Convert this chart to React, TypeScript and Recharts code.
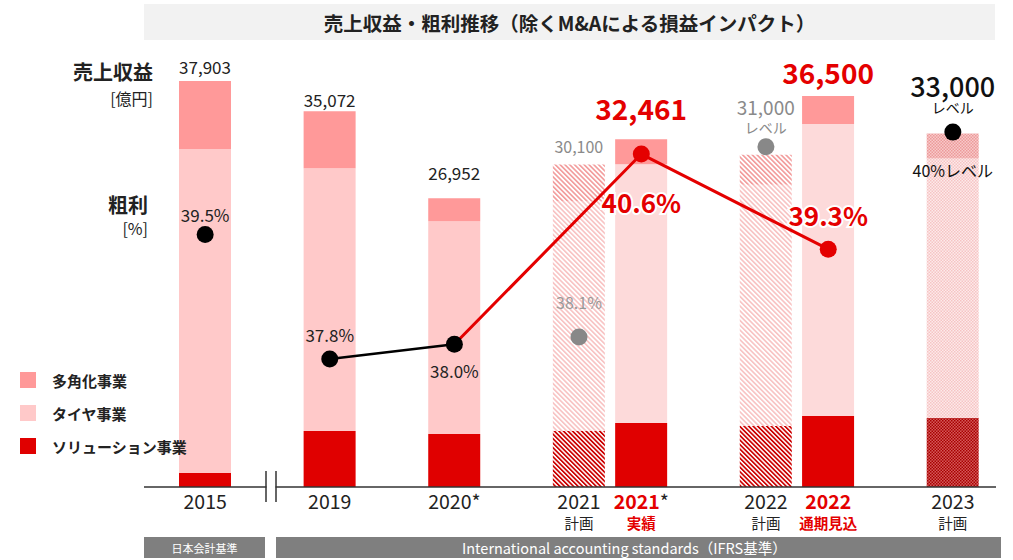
import React from "react";
import { ComposedChart, Bar, Line, XAxis, YAxis, Cell, LabelList } from "recharts";

const CATEGORIES = ["2015", "2019", "2020*", "2021", "2021*", "2022", "2022", "2023"];
const SUB_LABELS = ["", "", "", "計画", "実績", "計画", "通期見込", "計画"];
// slot of each category on a 13-slot grid (gaps are empty slots)
const SLOTS = [0, 2, 4, 6, 7, 9, 10, 12];
const SLOT_COUNT = 13;

const SERIES_NAMES = ["多角化事業", "タイヤ事業", "ソリューション事業"];
const SOLUTION = [1307, 5229, 4949, 5229, 5976, 5696, 6629, 6443];
const TIRE = [30246, 24521, 19855, 21416, 24151, 22504, 27257, 24223];
const DIVERSIFIED = [6350, 5322, 2148, 3455, 2334, 2800, 2614, 2334];
const TOTAL_LABELS = ["37,903", "35,072", "26,952", "30,100", "32,461", "31,000", "36,500", "33,000"];
const TOTAL_NOTES = ["", "", "", "", "", "レベル", "", "レベル"];

const MARGIN = [39.5, 37.8, 38.0, 38.1, 40.6, 40.7, 39.3, 40.9];
const MARGIN_LABELS = ["39.5%", "37.8%", "38.0%", "38.1%", "40.6%", "", "39.3%", "40%レベル"];
const BLACK_PATH = [1, 2];
const RED_PATH = [2, 4, 6];

const TITLE = "売上収益・粗利推移（除くM&Aによる損益インパクト）";
const BAND_LABELS = ["日本会計基準", "International accounting standards（IFRS基準）"];

const FONT = "'Noto Sans CJK JP', 'Noto Sans', sans-serif";
const RED = "#E40000";
const GREY = "#8a8a8a";

const KIND = ["actual", "actual", "actual", "plan", "current", "plan", "current", "target"];
const FILLS: Record<string, { sol: string; tire: string; div: string }> = {
  actual: { sol: "#E00000", tire: "#FFC9C9", div: "#FF9999" },
  current: { sol: "#E00000", tire: "#FDDADA", div: "#FF9999" },
  plan: { sol: "url(#hatchSol)", tire: "url(#hatchTire)", div: "url(#hatchDiv)" },
  target: { sol: "url(#checkSol)", tire: "url(#checkTire)", div: "url(#checkDiv)" },
};

// total label styles: gap = distance of label centre above bar top, note = offset of the note line
const TOTAL_STYLE = [
  { color: "#222", size: 17, weight: 400, gap: 14, note: 0 },
  { color: "#222", size: 17, weight: 400, gap: 12, note: 0 },
  { color: "#222", size: 17, weight: 400, gap: 26, note: 0 },
  { color: GREY, size: 16, weight: 400, gap: 19, note: 0 },
  { color: RED, size: 28, weight: 700, gap: 31, note: 0 },
  { color: GREY, size: 19, weight: 400, gap: 48, note: 20 },
  { color: RED, size: 28, weight: 700, gap: 24, note: 0 },
  { color: "#111", size: 27, weight: 500, gap: 48, note: 22 },
];

// margin label styles: dy = label centre offset from dot
const MARGIN_STYLE = [
  { color: "#222", size: 17, weight: 400, dy: -20, dot: "#000" },
  { color: "#222", size: 17, weight: 400, dy: -24, dot: "#000" },
  { color: "#222", size: 17, weight: 400, dy: 26, dot: "#000" },
  { color: "#999", size: 16, weight: 400, dy: -35, dot: "#888" },
  { color: RED, size: 26, weight: 700, dy: 47, dot: RED },
  { color: GREY, size: 16, weight: 400, dy: 0, dot: "#888" },
  { color: RED, size: 26, weight: 700, dy: -35, dot: RED },
  { color: "#111", size: 16, weight: 400, dy: 38, dot: "#000" },
];

const rows = Array.from({ length: SLOT_COUNT }, (_, slot) => {
  const k = SLOTS.indexOf(slot);
  if (k < 0) return { slot };
  return {
    slot,
    cat: k,
    solution: SOLUTION[k],
    tire: TIRE[k],
    diversified: DIVERSIFIED[k],
    margin: MARGIN[k],
    blackSeg: BLACK_PATH.includes(k) ? MARGIN[k] : null,
    redSeg: RED_PATH.includes(k) ? MARGIN[k] : null,
  };
});

function box(p: any) {
  const vb = p.viewBox || {};
  return {
    x: p.x ?? vb.x,
    y: p.y ?? vb.y,
    width: p.width ?? vb.width ?? 0,
  };
}

function TotalLabel(p: any) {
  const k = p.value;
  if (k === undefined || k === null) return null;
  const { x, y, width } = box(p);
  const s = TOTAL_STYLE[k];
  const cx = x + width / 2;
  const cy = y - s.gap;
  return (
    <g>
      <text x={cx} y={cy} textAnchor="middle" dominantBaseline="central" fill={s.color}
        fontSize={s.size} fontWeight={s.weight} fontFamily={FONT}>
        {TOTAL_LABELS[k]}
      </text>
      {TOTAL_NOTES[k] && (
        <text x={cx} y={cy + s.note} textAnchor="middle" dominantBaseline="central"
          fill={s.color} fontSize={14} fontFamily={FONT}>
          {TOTAL_NOTES[k]}
        </text>
      )}
    </g>
  );
}

function MarginLabel(p: any) {
  const k = p.value;
  if (k === undefined || k === null || !MARGIN_LABELS[k]) return null;
  const { x, y } = box(p);
  if (y === undefined || y === null || isNaN(y)) return null;
  const s = MARGIN_STYLE[k];
  return (
    <text x={x} y={y + s.dy} textAnchor="middle" dominantBaseline="central" fill={s.color}
      fontSize={s.size} fontWeight={s.weight} fontFamily={FONT}
      stroke="#fff" strokeWidth={s.weight > 500 ? 4 : 0} paintOrder="stroke">
      {MARGIN_LABELS[k]}
    </text>
  );
}

function MarginDot(p: any) {
  const { cx, cy, payload, index } = p;
  if (payload?.cat === undefined || cy === null || cy === undefined || isNaN(cy)) {
    return <g key={`d${index}`} />;
  }
  const s = MARGIN_STYLE[payload.cat];
  return <circle key={`d${index}`} cx={cx} cy={cy} r={8.5} fill={s.dot} />;
}

function Tick(p: any) {
  const { x, y, payload } = p;
  const k = SLOTS.indexOf(payload.value);
  if (k < 0) return <g />;
  const highlight = KIND[k] === "current";
  const cat = CATEGORIES[k];
  const star = cat.endsWith("*");
  const year = star ? cat.slice(0, -1) : cat;
  return (
    <g>
      <text x={x} y={y + 22} textAnchor="middle" fontSize={19.5} fontFamily={FONT}
        fill={highlight ? RED : "#222"} fontWeight={highlight ? 700 : 400}>
        <tspan>{year}</tspan>
        {star && <tspan fill="#222" fontWeight={400}>*</tspan>}
      </text>
      {SUB_LABELS[k] && (
        <text x={x} y={y + 42} textAnchor="middle" fontSize={14.5} fontFamily={FONT}
          fill={highlight ? RED : "#222"} fontWeight={highlight ? 700 : 400}>
          {SUB_LABELS[k]}
        </text>
      )}
    </g>
  );
}

const LEGEND_COLORS = ["#FF9999", "#FFC9C9", "#E00000"];

export default function App() {
  return (
    <div style={{ position: "absolute", left: 0, top: 0, width: 1013, height: 560, background: "#fff", fontFamily: FONT }}>
      <div style={{ position: "absolute", left: 144, top: 4, width: 851, height: 36, background: "#f2f2f2",
        display: "flex", alignItems: "center", justifyContent: "center", fontSize: 19.5, fontWeight: 700, color: "#222" }}>
        {TITLE}
      </div>

      <ComposedChart width={1013} height={560} data={rows}
        margin={{ top: 37, right: 17, bottom: 13, left: 144 }}
        style={{ position: "absolute", left: 0, top: 0 }}>
        <defs>
          <pattern id="hatchSol" width="3.2" height="3.2" patternUnits="userSpaceOnUse" patternTransform="rotate(-45)">
            <rect width="3.2" height="3.2" fill="#fff" />
            <rect width="1.7" height="3.2" fill="#cc0000" />
          </pattern>
          <pattern id="hatchTire" width="3.4" height="3.4" patternUnits="userSpaceOnUse" patternTransform="rotate(-45)">
            <rect width="3.4" height="3.4" fill="#fff" />
            <rect width="1.6" height="3.4" fill="#f8c2c2" />
          </pattern>
          <pattern id="hatchDiv" width="3.4" height="3.4" patternUnits="userSpaceOnUse" patternTransform="rotate(-45)">
            <rect width="3.4" height="3.4" fill="#fff" />
            <rect width="1.6" height="3.4" fill="#f29a9a" />
          </pattern>
          <pattern id="checkSol" width="3" height="3" patternUnits="userSpaceOnUse">
            <rect width="3" height="3" fill="#d45a5a" />
            <rect width="1.5" height="1.5" fill="#a80000" />
            <rect x="1.5" y="1.5" width="1.5" height="1.5" fill="#a80000" />
          </pattern>
          <pattern id="checkTire" width="3" height="3" patternUnits="userSpaceOnUse">
            <rect width="3" height="3" fill="#fdeaea" />
            <rect width="1.5" height="1.5" fill="#f6c4c4" />
            <rect x="1.5" y="1.5" width="1.5" height="1.5" fill="#f6c4c4" />
          </pattern>
          <pattern id="checkDiv" width="3" height="3" patternUnits="userSpaceOnUse">
            <rect width="3" height="3" fill="#f8caca" />
            <rect width="1.5" height="1.5" fill="#ec9a9a" />
            <rect x="1.5" y="1.5" width="1.5" height="1.5" fill="#ec9a9a" />
          </pattern>
        </defs>
        <XAxis dataKey="slot" type="category" height={60} interval={0}
          padding={{ left: 30, right: 12 }} tickLine={false} tickSize={0} tickMargin={0}
          axisLine={{ stroke: "#333", strokeWidth: 1.5 }} tick={<Tick />} />
        <YAxis yAxisId="rev" hide domain={[0, 42000]} />
        <YAxis yAxisId="pct" hide orientation="right" domain={[36.05, 42.2]} />

        <Bar yAxisId="rev" dataKey="solution" stackId="a" barSize={52} isAnimationActive={false}>
          {rows.map((r: any) => (
            <Cell key={`s${r.slot}`} fill={r.cat === undefined ? "none" : FILLS[KIND[r.cat]].sol} />
          ))}
        </Bar>
        <Bar yAxisId="rev" dataKey="tire" stackId="a" barSize={52} isAnimationActive={false}>
          {rows.map((r: any) => (
            <Cell key={`t${r.slot}`} fill={r.cat === undefined ? "none" : FILLS[KIND[r.cat]].tire} />
          ))}
        </Bar>
        <Bar yAxisId="rev" dataKey="diversified" stackId="a" barSize={52} isAnimationActive={false}>
          {rows.map((r: any) => (
            <Cell key={`v${r.slot}`} fill={r.cat === undefined ? "none" : FILLS[KIND[r.cat]].div} />
          ))}
          <LabelList dataKey="cat" content={<TotalLabel />} />
        </Bar>

        <Line yAxisId="pct" dataKey="redSeg" stroke={RED} strokeWidth={3} dot={false}
          connectNulls isAnimationActive={false} />
        <Line yAxisId="pct" dataKey="blackSeg" stroke="#000" strokeWidth={2.5} dot={false}
          connectNulls isAnimationActive={false} />
        <Line yAxisId="pct" dataKey="margin" stroke="none" dot={MarginDot} activeDot={false}
          isAnimationActive={false}>
          <LabelList dataKey="cat" content={<MarginLabel />} />
        </Line>
      </ComposedChart>

      {/* axis labels */}
      <div style={{ position: "absolute", right: 1013 - 153, top: 59, fontSize: 20, fontWeight: 700, color: "#222", lineHeight: "26px" }}>売上収益</div>
      <div style={{ position: "absolute", right: 1013 - 153, top: 88, fontSize: 16, color: "#222", lineHeight: "20px" }}>[億円]</div>
      <div style={{ position: "absolute", right: 1013 - 148, top: 192, fontSize: 20, fontWeight: 700, color: "#222", lineHeight: "26px" }}>粗利</div>
      <div style={{ position: "absolute", right: 1013 - 148, top: 218, fontSize: 16, color: "#222", lineHeight: "20px" }}>[%]</div>

      {/* legend */}
      {SERIES_NAMES.map((name, i) => (
        <div key={name} style={{ position: "absolute", left: 20, top: 372 + i * 33, height: 16, display: "flex", alignItems: "center" }}>
          <span style={{ width: 16, height: 16, background: LEGEND_COLORS[i], display: "inline-block" }} />
          <span style={{ marginLeft: 16, fontSize: 15, fontWeight: 600, color: "#222" }}>{name}</span>
        </div>
      ))}

      {/* axis break */}
      <svg width={1013} height={560} style={{ position: "absolute", left: 0, top: 0, pointerEvents: "none" }}>
        <rect x={266.5} y={484} width={9} height={6} fill="#fff" />
        <line x1={266} x2={266} y1={471} y2={502} stroke="#333" strokeWidth={1.5} />
        <line x1={276} x2={276} y1={471} y2={502} stroke="#333" strokeWidth={1.5} />
      </svg>

      {/* accounting standard bands */}
      <div style={{ position: "absolute", left: 144, top: 537, width: 121, height: 21, background: "#7f7f7f",
        color: "#fff", fontSize: 11, display: "flex", alignItems: "center", justifyContent: "center" }}>
        {BAND_LABELS[0]}
      </div>
      <div style={{ position: "absolute", left: 276, top: 537, width: 725, height: 21, background: "#7f7f7f",
        color: "#fff", fontSize: 14.5, display: "flex", alignItems: "center", paddingLeft: 186, boxSizing: "border-box" }}>
        {BAND_LABELS[1]}
      </div>
    </div>
  );
}
